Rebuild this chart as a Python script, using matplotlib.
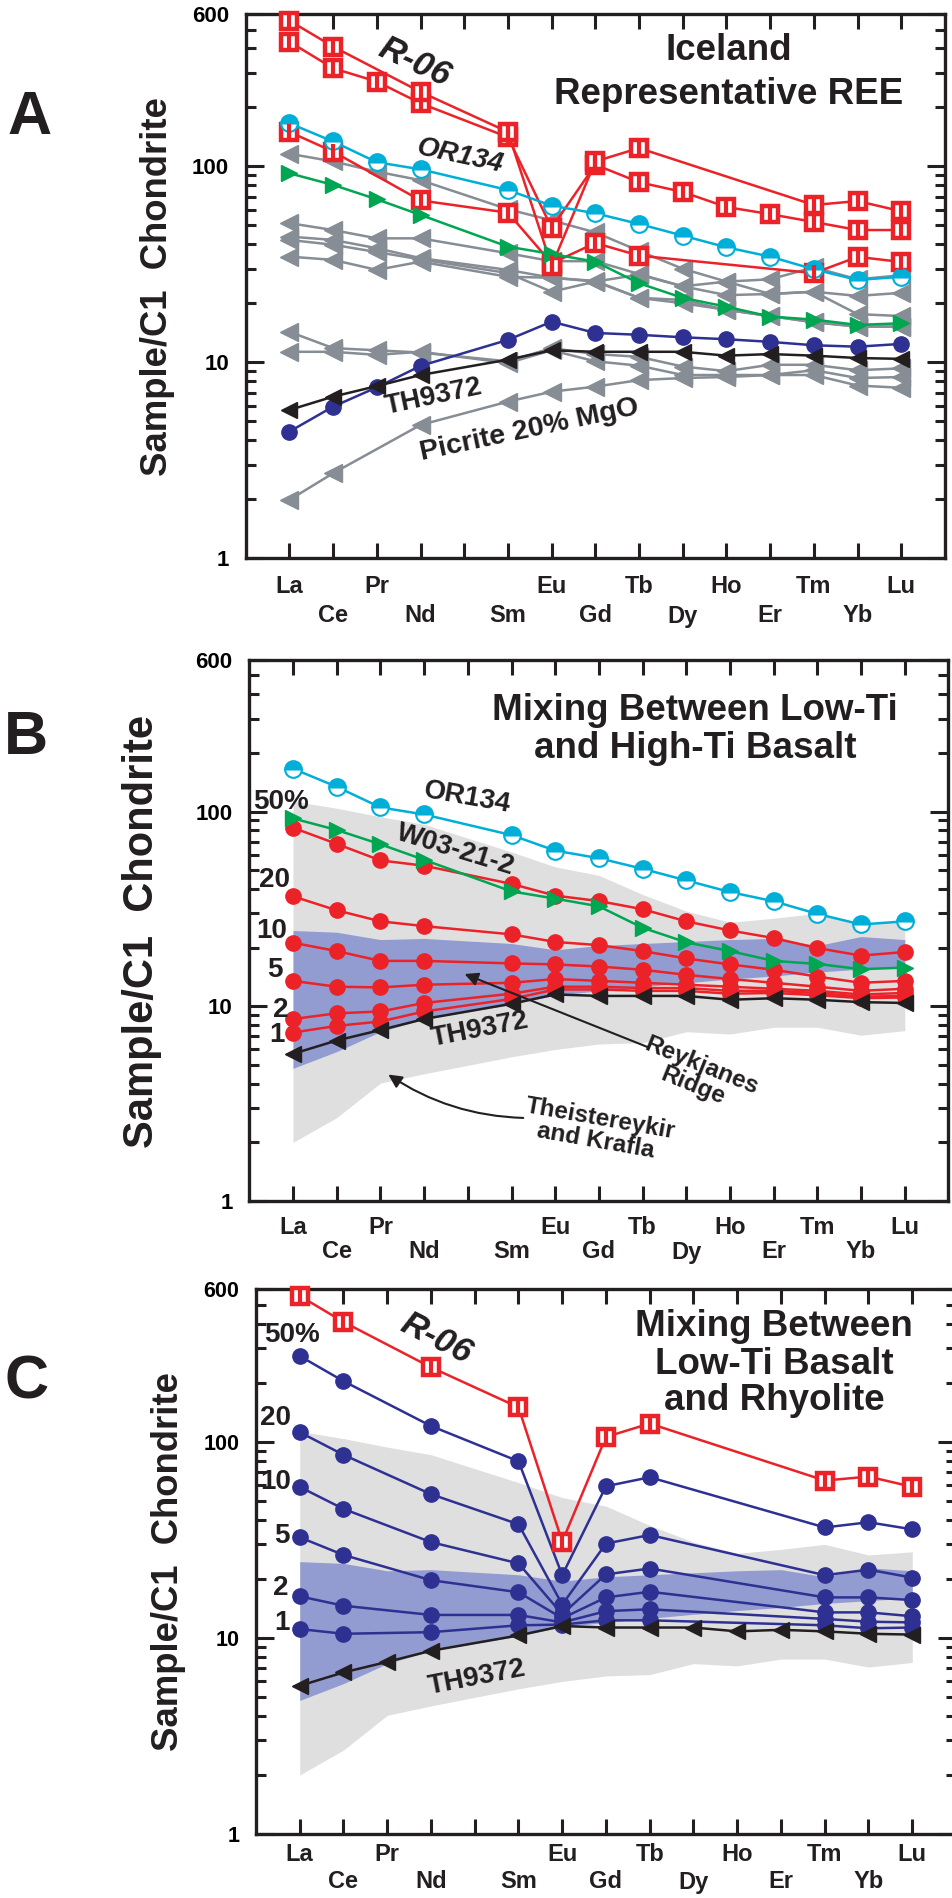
import matplotlib
matplotlib.use('Agg')
import matplotlib.pyplot as plt
from matplotlib.ticker import FixedLocator, FixedFormatter, NullFormatter, NullLocator

plt.rcParams['font.family'] = ['Liberation Sans', 'DejaVu Sans']
plt.rcParams['font.weight'] = 'bold'

# ---------------- data ----------------
REE = ['La', 'Ce', 'Pr', 'Nd', 'Sm', 'Eu', 'Gd', 'Tb', 'Dy', 'Ho', 'Er', 'Tm', 'Yb', 'Lu']
REE_POS = [0, 1, 2, 3, 5, 6, 7, 8, 9, 10, 11, 12, 13, 14]
ROW1 = ['La', 'Pr', 'Eu', 'Tb', 'Ho', 'Tm', 'Lu']
Y_TICKS = [1, 10, 100, 600]
Y_TICKLABELS = ['1', '10', '100', '600']
Y_MINOR = [2, 3, 4, 5, 6, 7, 8, 9, 20, 30, 40, 50, 60, 70, 80, 90, 200, 300, 400, 500]

SUB_EL = ['La', 'Ce', 'Nd', 'Sm', 'Eu', 'Gd', 'Tb', 'Tm', 'Yb', 'Lu']

R06_A = [555, 409, 240, 150, 31, 106, 124, 63.5, 66.5, 59]
R06_B = [433, 317, 271, 210, 141, 48.5, 102, 83, 74, 62, 57, 52, 47.3, 47.3]
RED3 = [150, 119, 67, 58, 32, 40.6, 35, 28.5, 34.5, 32.5]
OR134 = [166, 134, 105, 96.6, 75.7, 63, 57.6, 50.8, 44.3, 38.6, 34.6, 29.8, 26.3, 27.3]
W03 = [92.2, 80.4, 67.9, 56.5, 38.9, 35.7, 32.6, 25.3, 21.3, 19.2, 17.1, 16.5, 15.5, 15.8]
NAVY_A = [4.42, 5.93, 7.44, 9.57, 13.0, 16.1, 14.1, 13.8, 13.4, 13.1, 12.7, 12.2, 12.0, 12.4]
TH9372 = [5.70, 6.67, 7.55, 8.6, 10.3, 11.5, 11.3, 11.3, 11.3, 10.8, 11.0, 10.8, 10.5, 10.4]

GRAY1 = [116, 106, 94, 85, 60.4, 53, 46, 37, 30, 25.8, 26.5, 30.5, 26.5, 27.8]
GRAY2 = [51.3, 47.3, 42.9, 42.9, 36, 32.8, 32.8, 28.2, 24.4, 25.8, 22.3, 22.9, 21.8, 22.6]
GRAY3 = [43.8, 42.1, 38.2, 34, 29.6, 27, 25.8, 21.3, 20.8, 18.5, 17.2, 16, 15.2, 15.2]
GRAY4 = [42.1, 39.8, 36.5, 33.5, 28.5, 22.9, 25.8, 28, 24.4, 22, 22.3, 22.9, 17.6, 17.2]
GRAY5 = [34.6, 33.3, 29.6, 32.6, 27.3, 27, 26, 21.3, 20, 18.5, 17.2, 16, 15.2, 15.2]
GRAY6 = [14.3, 11.8, 11.5, 11.2, 10.1, 11.8, 11.0, 10.65, 9.5, 9.0, 9.7, 9.7, 9.1, 9.3]
GRAY7 = [11.3, 11.3, 10.9, 11.3, 9.9, 11.5, 10.1, 9.6, 8.6, 8.6, 8.6, 9.1, 8.3, 8.4]
PIC_EL = ['La', 'Ce', 'Nd', 'Sm', 'Eu', 'Gd', 'Tb', 'Dy', 'Ho', 'Er', 'Tm', 'Yb', 'Lu']
PICRITE = [1.98, 2.71, 4.78, 6.29, 7.07, 7.5, 8.1, 8.3, 8.4, 8.6, 8.6, 7.6, 7.4]

TK_UP = [113, 104, 94, 86, 62, 52, 47, 37.5, 30.8, 27, 28.3, 30, 26.5, 27.5]
TK_LO = [2.0, 2.68, 4.03, 4.5, 5.5, 6.0, 6.4, 6.5, 7.4, 7.2, 7.8, 7.8, 7.1, 7.5]
RR_UP = [24.5, 24.0, 22.0, 22.3, 21.0, 19.5, 20.5, 21.0, 21.5, 22.0, 22.3, 20.5, 22.8, 22.0]
RR_LO = [4.8, 5.85, 7.4, 8.6, 10.2, 11.4, 12.0, 12.6, 13.2, 13.8, 14.3, 15.0, 15.5, 16.0]

MIX_B = {
    '50': [82.6, 68.2, 56.1, 52.7, 42.5, 37.0, 34.7, 31.5, 27.3, 24.5, 22.4, 19.9, 18.2, 19.0],
    '20': [36.7, 31.1, 27.3, 25.8, 23.4, 21.4, 20.6, 19.2, 17.6, 16.4, 15.4, 14.2, 13.2, 13.5],
    '10': [21.2, 19.2, 17.1, 17.1, 16.6, 16.4, 16.0, 15.4, 14.5, 13.8, 13.2, 12.6, 12.0, 12.3],
    '5': [13.5, 12.6, 12.5, 12.9, 13.2, 13.8, 13.5, 13.2, 12.9, 12.6, 12.3, 12.0, 11.5, 11.7],
    '2': [8.6, 9.2, 9.4, 10.4, 11.6, 12.6, 12.6, 12.4, 12.4, 12.0, 12.0, 11.7, 11.2, 11.3],
    '1': [7.33, 7.93, 8.35, 9.4, 10.9, 12.2, 12.2, 12.0, 12.0, 11.6, 11.7, 11.4, 11.0, 11.1],
}
MIX_C = {
    '50': [274, 204, 120.5, 79.6, 20.9, 59.4, 66, 36.6, 38.9, 35.8],
    '20': [112, 85.9, 54.1, 38, 14.8, 30.3, 33.5, 20.9, 22.3, 20.3],
    '10': [58.9, 45.5, 30.8, 24, 13.2, 21.1, 22.6, 16.1, 16.1, 15.6],
    '5': [32.6, 26.5, 19.7, 17.1, 12.6, 16.1, 17.2, 13.5, 13.5, 12.9],
    '2': [16.3, 14.6, 13.1, 13.1, 12.0, 13.7, 14.0, 12.5, 12.1, 12.0],
    '1': [11.1, 10.5, 10.7, 11.6, 11.7, 12.3, 12.3, 11.6, 11.2, 11.3],
}

# ---------------- style ----------------
RED = '#ec2229'
CYAN = '#00afd8'
GREEN = '#00a651'
NAVY = '#2e3192'
GRAY = '#868d94'
BLACK = '#231f20'
FIELD_GRAY = '#dfdfdf'
FIELD_BLUE = '#929cd0'

W, H = 953.0, 1898.0
fig = plt.figure(figsize=(W / 100, H / 100), dpi=100)


def fxy(px, py):
    return px / W, 1 - py / H


def make_axes(left, right, top, bottom):
    return fig.add_axes([left / W, 1 - bottom / H, (right - left) / W, (bottom - top) / H])


def pos(els):
    return [REE_POS[REE.index(e)] for e in els]


def style(ax, ysize, offs):
    ax.set_xlim(-1, 15)
    ax.set_yscale('log')
    ax.set_ylim(1, 600)
    ax.xaxis.set_major_locator(FixedLocator(list(range(15))))
    ax.xaxis.set_minor_locator(NullLocator())
    ax.xaxis.set_major_formatter(NullFormatter())
    ax.yaxis.set_major_locator(FixedLocator(Y_TICKS))
    ax.yaxis.set_major_formatter(FixedFormatter(Y_TICKLABELS))
    ax.yaxis.set_minor_locator(FixedLocator(Y_MINOR))
    ax.yaxis.set_minor_formatter(NullFormatter())
    ax.tick_params(axis='x', which='major', direction='in', length=10.8, width=2.2,
                   top=True, bottom=True, color=BLACK)
    ax.tick_params(axis='y', which='major', direction='in', length=13, width=2.2,
                   left=True, right=True, labelsize=ysize, pad=12, color=BLACK)
    ax.tick_params(axis='y', which='minor', direction='in', length=7, width=2.2,
                   left=True, right=True, color=BLACK)
    for s in ax.spines.values():
        s.set_linewidth(2.4)
        s.set_color(BLACK)
    for el, p in zip(REE, REE_POS):
        off = offs[0] if el in ROW1 else offs[1]
        ax.annotate(el, xy=(p, 0), xycoords=('data', 'axes fraction'),
                    xytext=(0, -off * 0.72), textcoords='offset points',
                    ha='center', va='center', fontsize=17, fontweight='bold',
                    color=BLACK, annotation_clip=False)


def series(ax, els, vals, color, marker, ms=11, z=3, **kw):
    ax.plot(pos(els), vals, color=color, lw=1.8, marker=marker, ms=ms,
            mfc=kw.get('mfc', color), mec=kw.get('mec', color), mew=kw.get('mew', 1),
            fillstyle=kw.get('fillstyle', 'full'), markerfacecoloralt=kw.get('alt', 'white'),
            zorder=z, clip_on=False)


def red_squares(ax, els, vals, z=3):
    ax.plot(pos(els), vals, color=RED, lw=1.8, marker='s', ms=11, mfc='white',
            mec=RED, mew=3.2, zorder=z, clip_on=False)
    ax.plot(pos(els), vals, ls='none', marker='|', ms=11, mec=RED, mew=3.0,
            zorder=z + 0.1, clip_on=False)


def txt(px, py, s, size, rot=0, style_='normal', ha='center', va='center'):
    x, y = fxy(px, py)
    fig.text(x, y, s, fontsize=size, rotation=rot, fontstyle=style_, fontweight='bold',
             ha=ha, va=va, color=BLACK, rotation_mode='anchor', linespacing=0.95)


# ---------------- Panel A ----------------
axA = make_axes(245.7, 945, 14, 558)
style(axA, 16, (28.7, 58))
for g in [GRAY1, GRAY2, GRAY3, GRAY4, GRAY5, GRAY6, GRAY7]:
    series(axA, REE, g, GRAY, '<', ms=13, z=2)
series(axA, PIC_EL, PICRITE, GRAY, '<', ms=13, z=2)
red_squares(axA, SUB_EL, RED3)
red_squares(axA, REE, R06_B)
red_squares(axA, SUB_EL, R06_A)
series(axA, REE, OR134, CYAN, 'o', ms=12, fillstyle='top', alt='white', mec=CYAN, mew=1.5)
series(axA, REE, W03, GREEN, '>', ms=12)
series(axA, REE, NAVY_A, NAVY, 'o', ms=11)
series(axA, REE, TH9372, BLACK, '<', ms=12, z=4)

txt(729, 50, 'Iceland', 26.5)
txt(729, 95, 'Representative REE', 26.5)
txt(415, 62, 'R-06', 25, rot=-25, style_='italic')
txt(460, 156, 'OR134', 20, rot=-12, style_='italic')
txt(434, 397, 'TH9372', 20, rot=12)
txt(529, 430, 'Picrite 20% MgO', 20.5, rot=12)
txt(30, 118, 'A', 44)
txt(158, 287, 'Sample/C1  Chondrite', 26.3, rot=90)

# ---------------- Panel B ----------------
axB = make_axes(249.3, 948.5, 660, 1201)
style(axB, 16, (27, 51))
axB.fill_between(REE_POS, TK_LO, TK_UP, color=FIELD_GRAY, lw=0, zorder=1)
axB.fill_between(REE_POS, RR_LO, RR_UP, color=FIELD_BLUE, lw=0, zorder=1.1)
series(axB, REE, OR134, CYAN, 'o', ms=12, fillstyle='top', alt='white', mec=CYAN, mew=1.5)
for k in ['1', '2', '5', '10', '20', '50']:
    series(axB, REE, MIX_B[k], RED, 'o', ms=11)
series(axB, REE, W03, GREEN, '>', ms=12)
series(axB, REE, TH9372, BLACK, '<', ms=12, z=4)

txt(695, 711, 'Mixing Between Low-Ti', 26.5)
txt(695, 748, 'and High-Ti Basalt', 26.5)
txt(467, 798, 'OR134', 20, rot=-10)
txt(455, 850, 'W03-21-2', 20, rot=-17)
txt(480, 1030, 'TH9372', 20, rot=11)
for lab, (px, py) in zip(['50%', '20', '10', '5', '2', '1'],
                         [(281, 802), (275, 880), (272, 931), (275, 970), (281, 1010), (277, 1035)]):
    txt(px, py, lab, 20)
txt(697, 1076, 'Reykjanes\nRidge', 17.5, rot=-22)
txt(598, 1130, 'Theistereykir\nand Krafla', 17.5, rot=-10)
fig.add_artist(matplotlib.patches.FancyArrowPatch(
    fxy(650, 1048), fxy(462, 973), transform=fig.transFigure, arrowstyle='-|>,head_length=8,head_width=4',
    color=BLACK, lw=1.5, mutation_scale=1))
fig.add_artist(matplotlib.patches.FancyArrowPatch(
    fxy(526, 1118), fxy(386, 1073), transform=fig.transFigure, arrowstyle='-|>,head_length=8,head_width=4',
    connectionstyle='arc3,rad=-0.15', color=BLACK, lw=1.5, mutation_scale=1))
txt(26, 738, 'B', 44)
txt(142, 931, 'Sample/C1  Chondrite', 30, rot=90)

# ---------------- Panel C ----------------
axC = make_axes(256, 956, 1289.3, 1834)
style(axC, 15.5, (20.7, 48))
axC.fill_between(REE_POS, TK_LO, TK_UP, color=FIELD_GRAY, lw=0, zorder=1)
axC.fill_between(REE_POS, RR_LO, RR_UP, color=FIELD_BLUE, lw=0, zorder=1.1)
for k in ['1', '2', '5', '10', '20', '50']:
    series(axC, SUB_EL, MIX_C[k], NAVY, 'o', ms=11)
red_squares(axC, SUB_EL, R06_A)
series(axC, REE, TH9372, BLACK, '<', ms=12, z=4)

txt(774, 1326, 'Mixing Between', 26.5)
txt(774, 1364, 'Low-Ti Basalt', 26.5)
txt(774, 1400, 'and Rhyolite', 26.5)
txt(436, 1339, 'R-06', 25, rot=-27, style_='italic')
txt(477, 1678, 'TH9372', 20, rot=11)
for lab, (px, py) in zip(['50%', '20', '10', '5', '2', '1'],
                         [(292, 1335), (276, 1418), (276, 1482), (282, 1536), (281, 1588), (282, 1623)]):
    txt(px, py, lab, 20)
txt(27, 1383, 'C', 44)
txt(168, 1562, 'Sample/C1  Chondrite', 26.3, rot=90)

fig.savefig('out.png', dpi=100)
